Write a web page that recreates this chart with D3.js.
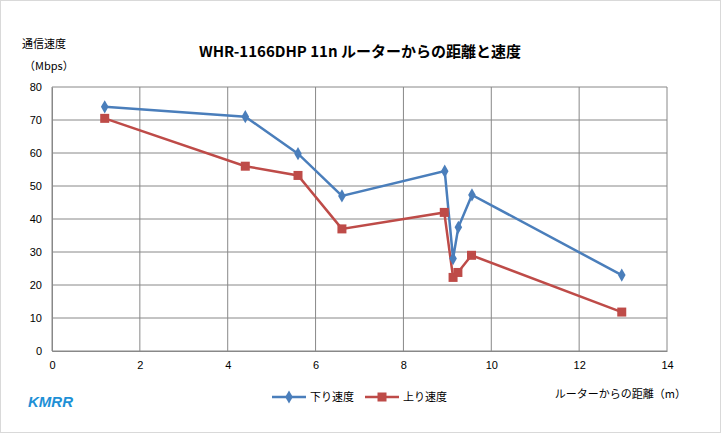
<!DOCTYPE html>
<html><head><meta charset="utf-8">
<script src="https://cdn.jsdelivr.net/npm/d3@7"></script>
<style>body{margin:0;background:#fff;font-family:"Noto Sans CJK JP","DejaVu Sans",sans-serif}</style>
</head><body><svg id="c" width="721" height="433"></svg>
<script>
const distDown=[1.2,4.4,5.6,6.6,8.94,9.13,9.25,9.56,12.97];
const speedDown=[74,71,59.8,47,54.5,28,37.5,47.3,23];
const distUp=[1.2,4.4,5.6,6.6,8.93,9.13,9.24,9.55,12.97];
const speedUp=[70.5,56,53.2,37,42,22.3,23.8,29,11.8];
const xTicks=[0,2,4,6,8,10,12,14];
const yTicks=[0,10,20,30,40,50,60,70,80];
const svg=d3.select("#c");
svg.append("rect").attr("x",0.5).attr("y",0.5).attr("width",720).attr("height",432).attr("fill","#fff").attr("stroke","#d9d9d9");
const x=d3.scaleLinear().domain([0,14]).range([52,667]);
const y=d3.scaleLinear().domain([0,80]).range([351,87]);
const g=svg.append("g");
g.selectAll(".gx").data(xTicks).join("line").attr("x1",d=>x(d)).attr("x2",d=>x(d)).attr("y1",y(0)).attr("y2",y(80)).attr("stroke","#888").attr("stroke-width",1);
g.selectAll(".gy").data(yTicks).join("line").attr("y1",d=>y(d)).attr("y2",d=>y(d)).attr("x1",x(0)).attr("x2",x(14)).attr("stroke","#888").attr("stroke-width",1);
const xa=svg.append("g").attr("transform",`translate(0,${y(0)})`).call(d3.axisBottom(x).tickValues(xTicks).tickSize(0).tickPadding(10));
const ya=svg.append("g").attr("transform",`translate(${x(0)},0)`).call(d3.axisLeft(y).tickValues(yTicks).tickSize(0).tickPadding(10));
[xa,ya].forEach(a=>{a.select(".domain").attr("stroke","#888");a.selectAll("text").attr("font-size",11).attr("fill","#000").attr("font-family","Liberation Sans, sans-serif");});
const line=d3.line().x(d=>x(d[0])).y(d=>y(d[1]));
const down=distDown.map((d,i)=>[d,speedDown[i]]);
const up=distUp.map((d,i)=>[d,speedUp[i]]);
const blue="#4a7ebb",red="#be4b48";
svg.append("path").datum(up).attr("d",line).attr("fill","none").attr("stroke",red).attr("stroke-width",2.5);
svg.append("path").datum(down).attr("d",line).attr("fill","none").attr("stroke",blue).attr("stroke-width",2.5);
svg.selectAll(".dm").data(down).join("path").attr("d",d3.symbol(d3.symbolDiamond,50)).attr("transform",d=>`translate(${x(d[0])},${y(d[1])})`).attr("fill",blue);
svg.selectAll(".um").data(up).join("rect").attr("x",d=>x(d[0])-4.5).attr("y",d=>y(d[1])-4.5).attr("width",9).attr("height",9).attr("fill",red);
svg.append("text").attr("x",360).attr("y",57).attr("text-anchor","middle").attr("font-size",15).attr("font-weight","bold").text("WHR-1166DHP 11n ルーターからの距離と速度");
svg.append("text").attr("x",22).attr("y",48).attr("font-size",11).text("通信速度");
svg.append("text").attr("x",24).attr("y",70).attr("font-size",11).text("（Mbps）");
svg.append("text").attr("x",686).attr("y",398).attr("text-anchor","end").attr("font-size",11).text("ルーターからの距離（m）");
svg.append("text").attr("x",28).attr("y",407).attr("font-size",15).attr("font-weight","bold").attr("font-style","italic").attr("fill","#1e90d6").attr("font-family","Liberation Sans, sans-serif").text("KMRR");
const lg=svg.append("g");
lg.append("line").attr("x1",272).attr("x2",306).attr("y1",397).attr("y2",397).attr("stroke",blue).attr("stroke-width",2.5);
lg.append("path").attr("d",d3.symbol(d3.symbolDiamond,50)).attr("transform","translate(289,397)").attr("fill",blue);
lg.append("text").attr("x",310).attr("y",401).attr("font-size",11).text("下り速度");
lg.append("line").attr("x1",365).attr("x2",399).attr("y1",397).attr("y2",397).attr("stroke",red).attr("stroke-width",2.5);
lg.append("rect").attr("x",377.5).attr("y",392.5).attr("width",9).attr("height",9).attr("fill",red);
lg.append("text").attr("x",403).attr("y",401).attr("font-size",11).text("上り速度");
</script></body></html>
